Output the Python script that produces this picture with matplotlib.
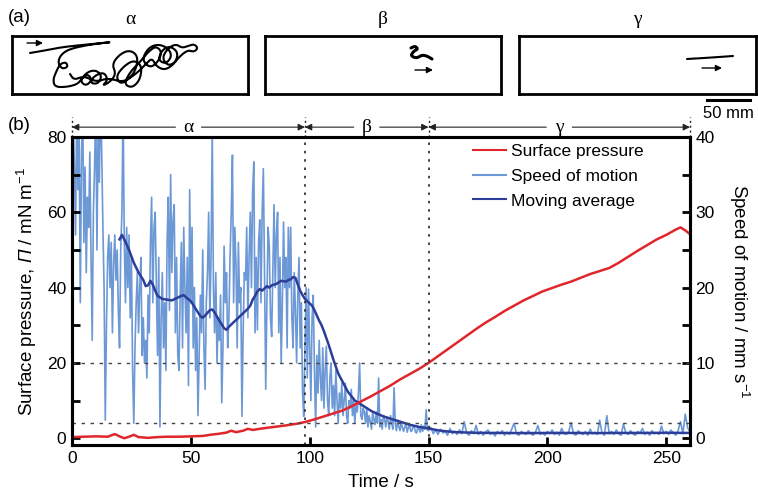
import numpy as np
import matplotlib
matplotlib.use('Agg')
import matplotlib.pyplot as plt
from matplotlib.lines import Line2D

plt.rcParams['font.family'] = ['Liberation Sans', 'DejaVu Sans']
plt.rcParams['mathtext.fontset'] = 'custom'
plt.rcParams['mathtext.rm'] = 'Liberation Sans:italic'
plt.rcParams['mathtext.it'] = 'Liberation Sans:italic'
plt.rcParams['mathtext.sf'] = 'Liberation Sans'

# ---------------- data ----------------
# speed of motion (mm/s): every 0.5 s from 0 to 149.5 s ...
speed_fast = [
    30, 42, 36, 27, 45, 33, 40, 18, 38, 44,          # 0.0-4.5
    26, 36, 22, 32, 28, 38, 24, 13, 30, 36,          # 5.0-9.5
    44, 25, 42, 34, 46, 38, 28, 20, 2.4, 15,         # 10.0-14.5
    24, 27, 20, 26, 14, 23, 27, 21, 25, 17,          # 15.0-19.5
    12, 25, 30, 44, 26, 18, 28, 20, 27, 16,          # 20.0-24.5
    24, 9, 2.0, 12, 18, 22, 14, 20, 24, 11,          # 25.0-29.5
    16, 10, 13, 8, 19, 14, 26, 32, 18, 28,           # 30.0-34.5
    30, 20, 11, 24, 1.5, 16, 22, 12, 18, 9,          # 35.0-39.5
    26, 32, 17, 35, 22, 29, 31, 14, 24, 11,          # 40.0-44.5
    9, 19, 26, 12, 28, 20, 14, 24, 7, 33,            # 45.0-49.5
    18, 28, 12, 20, 9, 16, 3, 11, 19, 14,            # 50.0-54.5
    25, 12, 6.5, 18, 22, 30, 16, 24, 41, 20,         # 55.0-59.5
    14, 22, 10, 16, 13, 19, 4.7, 12, 25.5, 18,       # 60.0-64.5
    22, 12, 16, 24, 30, 37.6, 18, 28, 23, 12,        # 65.0-69.5
    26, 18, 20, 2.9, 14, 22, 21, 28, 16, 24,         # 70.0-74.5
    30, 20, 33, 36.7, 14, 24, 14.4, 26, 29, 18,      # 75.0-79.5
    30, 35.8, 22, 6.5, 18, 28, 25.5, 16, 13.5, 22,   # 80.0-84.5
    31, 20, 27, 30, 14, 24, 10, 18, 28.7, 20,        # 85.0-89.5
    24, 12, 28, 20, 28, 16, 12, 22, 17, 10,          # 90.0-94.5
    19, 24, 12, 18, 6, 2.9, 12, 20, 8, 19.8,         # 95.0-99.5
    12, 5, 16, 19, 9, 1.5, 11, 6, 13, 8,             # 100.0-104.5
    5, 12, 4, 9, 12.2, 5, 3, 8, 10, 4,               # 105.0-109.5
    7, 3, 9, 5, 2, 6, 4, 7.3, 3, 5,                  # 110.0-114.5
    7.3, 3, 2, 5, 4, 6.5, 3, 5, 2, 4.5,              # 115.0-119.5
    3.5, 6, 10, 3, 2.5, 4, 3.5, 2, 4, 1.5,           # 120.0-124.5
    3, 2.2, 1.2, 3.5, 2.5, 1.8, 3.5, 2, 8, 1.5,      # 125.0-129.5
    2.5, 1.2, 3, 2.5, 1.5, 2.8, 2.2, 1.2, 3.0, 2.0,  # 130.0-134.5
    1.2, 6.7, 2.0, 1.0, 2.4, 1.5, 1.0, 2.2, 1.4, 0.9,  # 135.0-139.5
    1.5, 2.0, 0.8, 1.4, 1.8, 0.9, 1.0, 1.6, 1.5, 0.8,  # 140.0-144.5
    0.7, 1.5, 1.2, 0.8, 1.8, 0.9, 1.6, 1.2, 3.8, 1.1,  # 145.0-149.5
]
# ... and every 1 s from 150 to 260 s
speed_slow = [
    1.0, 1.4, 0.6, 1.1, 0.5, 1.2, 0.7, 0.9, 0.4, 1.3,  # 150-159
    0.6, 0.9, 0.5, 1.1, 0.6, 2.2, 0.7, 0.4, 1.0, 0.6,  # 160-169
    1.7, 0.5, 0.9, 0.4, 0.8, 1.1, 0.5, 0.7, 0.3, 0.9,  # 170-179
    0.6, 1.0, 0.4, 0.8, 0.5, 1.2, 2.0, 0.6, 0.4, 0.9,  # 180-189
    0.7, 0.5, 1.0, 0.6, 0.4, 0.8, 1.7, 0.5, 0.7, 0.4,  # 190-199
    0.9, 0.6, 1.1, 0.5, 0.8, 0.4, 1.3, 0.6, 0.5, 0.9,  # 200-209
    2.1, 0.6, 0.4, 1.0, 0.7, 0.5, 0.9, 0.4, 1.2, 0.6,  # 210-219
    0.8, 0.5, 2.4, 0.7, 0.4, 3.0, 0.6, 0.9, 0.5, 1.1,  # 220-229
    0.6, 0.4, 1.9, 0.7, 0.5, 1.0, 0.6, 0.4, 0.9, 0.7,  # 230-239
    1.3, 0.5, 0.8, 0.4, 1.0, 0.6, 0.7, 0.5, 1.6, 0.6,  # 240-249
    0.9, 0.5, 1.1, 0.7, 0.4, 1.0, 2.2, 0.6, 3.2, 1.4,  # 250-259
    0.8,                                               # 260
]
speed_time = np.concatenate([np.arange(0, 150, 0.5), np.arange(150, 261, 1.0)])
speed = np.array(speed_fast + speed_slow)

ma_time = [20, 21, 22, 24, 26, 28, 30, 31, 32, 33, 34, 35, 36, 38, 40, 42, 44,
           46, 47, 48, 50, 52, 54, 55, 56, 58, 59, 60, 62, 64, 65, 66, 68, 70,
           72, 74, 75, 76, 77, 78, 79, 80, 81, 82, 83, 84, 86, 88, 90, 91, 92,
           93, 94, 95, 96, 97, 98, 99, 100, 101, 102, 103, 104, 105, 106, 107,
           108, 109, 110, 111, 112, 113, 114, 115, 116, 117, 118, 119, 120,
           121, 122, 124, 126, 128, 131, 135, 138, 142, 146, 150, 154, 158,
           162, 170, 180, 190, 200, 210, 220, 230, 240, 250, 260]
ma_speed = [26.4, 27.0, 26.4, 25.0, 23.3, 22.0, 21.0, 20.2, 20.3, 20.9, 20.4,
            19.6, 18.9, 18.5, 18.4, 18.3, 18.6, 18.9, 19.0, 18.7, 18.2, 17.2,
            16.2, 16.0, 16.3, 17.0, 17.1, 16.7, 15.6, 14.6, 14.4, 14.8, 15.4,
            16.0, 16.6, 17.2, 17.6, 18.4, 18.9, 19.5, 19.8, 19.6, 19.9, 20.2,
            20.0, 20.3, 20.5, 20.9, 20.8, 21.0, 21.1, 21.4, 21.3, 20.4, 19.6,
            19.0, 18.5, 18.2, 17.9, 17.6, 17.0, 16.3, 15.6, 15.0, 14.2, 13.3,
            12.4, 11.4, 10.4, 9.5, 8.6, 8.0, 7.4, 6.8, 6.2, 5.8, 5.4, 5.0, 4.8,
            4.6, 4.4, 4.0, 3.6, 3.3, 2.9, 2.5, 2.2, 1.8, 1.5, 1.3, 1.05, 0.9,
            0.8, 0.72, 0.7, 0.68, 0.7, 0.7, 0.68, 0.7, 0.7, 0.72, 0.7]

p_time = [0, 5, 10, 15, 18, 20, 22, 24, 26, 28, 32, 36, 40, 45, 50, 55, 58, 62,
          65, 67, 69, 72, 74, 76, 80, 85, 90, 95, 98, 102, 106, 110, 114, 118,
          122, 126, 130, 134, 138, 142, 146, 150, 154, 158, 162, 166, 170, 174,
          178, 182, 186, 190, 194, 198, 202, 206, 210, 214, 218, 222, 226, 230,
          234, 238, 242, 246, 250, 254, 256, 258, 260]
pressure = [0.3, 0.4, 0.5, 0.4, 1.1, 0.5, 0.0, 0.4, 0.9, 0.3, 0.1, 0.3, 0.4, 0.4,
            0.5, 0.6, 0.9, 1.2, 1.5, 2.0, 1.6, 2.0, 2.5, 2.2, 2.6, 3.0, 3.4, 3.9,
            4.3, 5.0, 5.8, 6.6, 7.4, 8.6, 9.9, 11.2, 12.6, 14.0, 15.6, 17.0, 18.4,
            20.0, 21.8, 23.6, 25.4, 27.2, 29.0, 30.7, 32.2, 33.8, 35.2, 36.6,
            37.8, 39.0, 39.9, 40.8, 41.6, 42.6, 43.6, 44.4, 45.2, 46.6, 48.2,
            49.8, 51.3, 52.8, 54.0, 55.4, 56.0, 55.2, 54.2]

phase_bounds = [0, 98, 150, 260]
phase_names = ['α', 'β', 'γ']

# trajectories in the top boxes (box-local px, y down)
traj_alpha_x = [18, 30, 45, 60, 80, 101, 90, 70, 55, 48, 46, 50, 56, 54, 48, 44, 41, 43,
                55, 66, 70, 76, 80, 74, 68, 75, 84, 90, 86, 78, 82, 92, 96, 90, 98,
                104, 100, 108, 118, 126, 124, 116, 108, 104, 112, 122, 130, 128, 120,
                112, 118, 128, 136, 144, 150, 146, 138, 130, 136, 146, 156, 160, 154,
                146, 150, 158, 166, 164, 156, 150, 156, 164, 170, 176, 182, 186, 182,
                176, 168, 160, 152, 144, 140, 134, 126, 118, 110, 96, 84, 72, 62, 58]
traj_alpha_y = [17, 15, 12, 10, 8, 6, 7, 10, 14, 20, 27, 33, 31, 26, 28, 36, 44, 51,
                51, 48, 42, 38, 44, 50, 45, 36, 34, 40, 48, 47, 40, 36, 44, 50, 46,
                38, 28, 18, 14, 20, 34, 44, 48, 40, 30, 24, 30, 44, 52, 48, 36, 26,
                16, 10, 16, 26, 32, 24, 12, 8, 12, 20, 28, 24, 14, 10, 16, 26, 30,
                22, 12, 8, 12, 10, 8, 12, 16, 14, 20, 30, 34, 30, 22, 28, 36, 42,
                46, 42, 46, 40, 44, 38]
traj_beta_x = [146, 150, 153, 149, 146, 148, 152, 157, 162, 167]
traj_beta_y = [12, 10, 13, 15, 19, 21, 22, 19, 20, 23]
traj_gamma_x = [168, 185, 200, 214]
traj_gamma_y = [23, 22, 21, 20]

# ---------------- figure ----------------
W, H = 758, 492
fig = plt.figure(figsize=(W / 100, H / 100), dpi=100)


def fx(px):
    return px / W


def fy(py):
    return 1 - py / H


def chaikin(xs, ys, n=3):
    pts = np.column_stack([xs, ys]).astype(float)
    for _ in range(n):
        q = 0.75 * pts[:-1] + 0.25 * pts[1:]
        r = 0.25 * pts[:-1] + 0.75 * pts[1:]
        new = np.empty((2 * len(q), 2))
        new[0::2] = q
        new[1::2] = r
        pts = np.vstack([pts[:1], new, pts[-1:]])
    return pts[:, 0], pts[:, 1]


serif = ['Liberation Serif', 'DejaVu Serif']

# ---- top panels (a)
boxes = [(12, 248), (265, 501), (519, 756)]
trajs = [(traj_alpha_x, traj_alpha_y, (15, 31, 7)),
         (traj_beta_x, traj_beta_y, (150, 168, 34)),
         (traj_gamma_x, traj_gamma_y, (183, 203, 32))]
for (x0, x1), name, (tx, ty, arr) in zip(boxes, phase_names, trajs):
    bx = fig.add_axes([fx(x0), fy(94), fx(x1 - x0), 58 / H])
    bx.set_xlim(0, x1 - x0)
    bx.set_ylim(58, 0)
    bx.set_xticks([])
    bx.set_yticks([])
    for s in bx.spines.values():
        s.set_linewidth(2.0)
    sx, sy = chaikin(tx, ty, 3)
    bx.plot(sx, sy, color='black', lw=1.5 if name != 'β' else 2.2,
            solid_capstyle='round')
    bx.annotate('', xy=(arr[1], arr[2]), xytext=(arr[0], arr[2]),
                arrowprops=dict(arrowstyle='-|>', color='black', lw=1.0,
                                mutation_scale=9, shrinkA=0, shrinkB=0))
    fig.text(fx((x0 + x1) / 2), fy(19), name, ha='center', va='center',
             fontsize=14, family=serif)

fig.text(fx(8), fy(18), '(a)', ha='left', va='center', fontsize=13.5)
fig.text(fx(8), fy(126), '(b)', ha='left', va='center', fontsize=13.5)

# scale bar
fig.add_artist(Line2D([fx(707), fx(750)], [fy(100), fy(100)], color='black', lw=2.2))
fig.text(fx(728), fy(113), '50 mm', ha='center', va='center', fontsize=12)

# ---- main panel (b)
ax = fig.add_axes([fx(72), fy(445), fx(690 - 72), (445 - 137) / H])
ax2 = ax.twinx()
ax.set_zorder(ax2.get_zorder() + 1)
ax.patch.set_visible(False)

c_red = '#e0262b'
c_light = '#6c98d6'
c_dark = '#2c3d9a'

ax2.plot(speed_time, speed, color=c_light, lw=1.2)
ax2.plot(ma_time, ma_speed, color=c_dark, lw=1.8)
ax.plot(p_time, pressure, color=c_red, lw=1.8)

ax.set_xlim(0, 260)
ax.set_ylim(-1.8, 80)
ax2.set_ylim(-0.9, 40)

# reference lines
for yv in (20, 4):
    ax.axhline(yv, color='#444444', lw=1.0, ls=(0, (2.5, 4)))
for xv in phase_bounds[1:3]:
    ax.axvline(xv, color='#222222', lw=1.2, ls=(0, (1.5, 3.5)))

ax.set_xticks([0, 50, 100, 150, 200, 250])
ax.set_yticks([0, 20, 40, 60, 80])
ax.set_yticks([10, 30, 50, 70], minor=True)
ax2.set_yticks([0, 10, 20, 30, 40])
ax2.set_yticks([5, 15, 25, 35], minor=True)
for a in (ax, ax2):
    a.tick_params(which='both', direction='in', length=6, width=2.0,
                  labelsize=12.5, pad=4)
ax.tick_params(top=False, right=False)
ax2.tick_params(which='both', left=False, right=True)
for s in ('left', 'right', 'top', 'bottom'):
    ax.spines[s].set_linewidth(2.2)
    ax2.spines[s].set_linewidth(2.2)

ax.set_xlabel('Time / s', fontsize=13.5, labelpad=6)
ax.set_ylabel(r'Surface pressure, $Π$ / mN m$^{\mathsf{-1}}$', fontsize=13.5,
              labelpad=6)
ax2.set_ylabel(r'Speed of motion / mm s$^{\mathsf{-1}}$', fontsize=13.5,
               rotation=270, labelpad=26)

# legend
handles = [Line2D([], [], color=c_red, lw=1.5),
           Line2D([], [], color=c_light, lw=1.5),
           Line2D([], [], color=c_dark, lw=1.5)]
ax.legend(handles, ['Surface pressure', 'Speed of motion', 'Moving average'],
          loc='upper left', bbox_to_anchor=(fx(473), fy(144)),
          bbox_transform=fig.transFigure, frameon=False, fontsize=12.5,
          handlelength=1.9, handletextpad=0.3, labelspacing=0.55,
          borderaxespad=0, borderpad=0)

# phase arrows above the panel
trans = ax.get_xaxis_transform()
y_arr = 1.032
gap = 13 / 2.377  # half gap for the label, in seconds
for i, name in enumerate(phase_names):
    a0, a1 = phase_bounds[i], phase_bounds[i + 1]
    mid = (a0 + a1) / 2
    for start, end in ((mid - gap, a0), (mid + gap, a1)):
        ax.annotate('', xy=(end, y_arr), xytext=(start, y_arr), xycoords=trans,
                    textcoords=trans, annotation_clip=False,
                    arrowprops=dict(arrowstyle='-|>', color='#222222', lw=0.8,
                                    mutation_scale=10, shrinkA=0, shrinkB=0))
    ax.text(mid, y_arr, name, transform=trans, ha='center', va='center',
            fontsize=14, family=serif, clip_on=False)
for xv in phase_bounds:
    ax.plot([xv, xv], [1.0, 1.065], transform=trans, color='#222222', lw=1.0,
            ls=(0, (1.5, 2)), clip_on=False)

fig.savefig('out.png', dpi=100)
